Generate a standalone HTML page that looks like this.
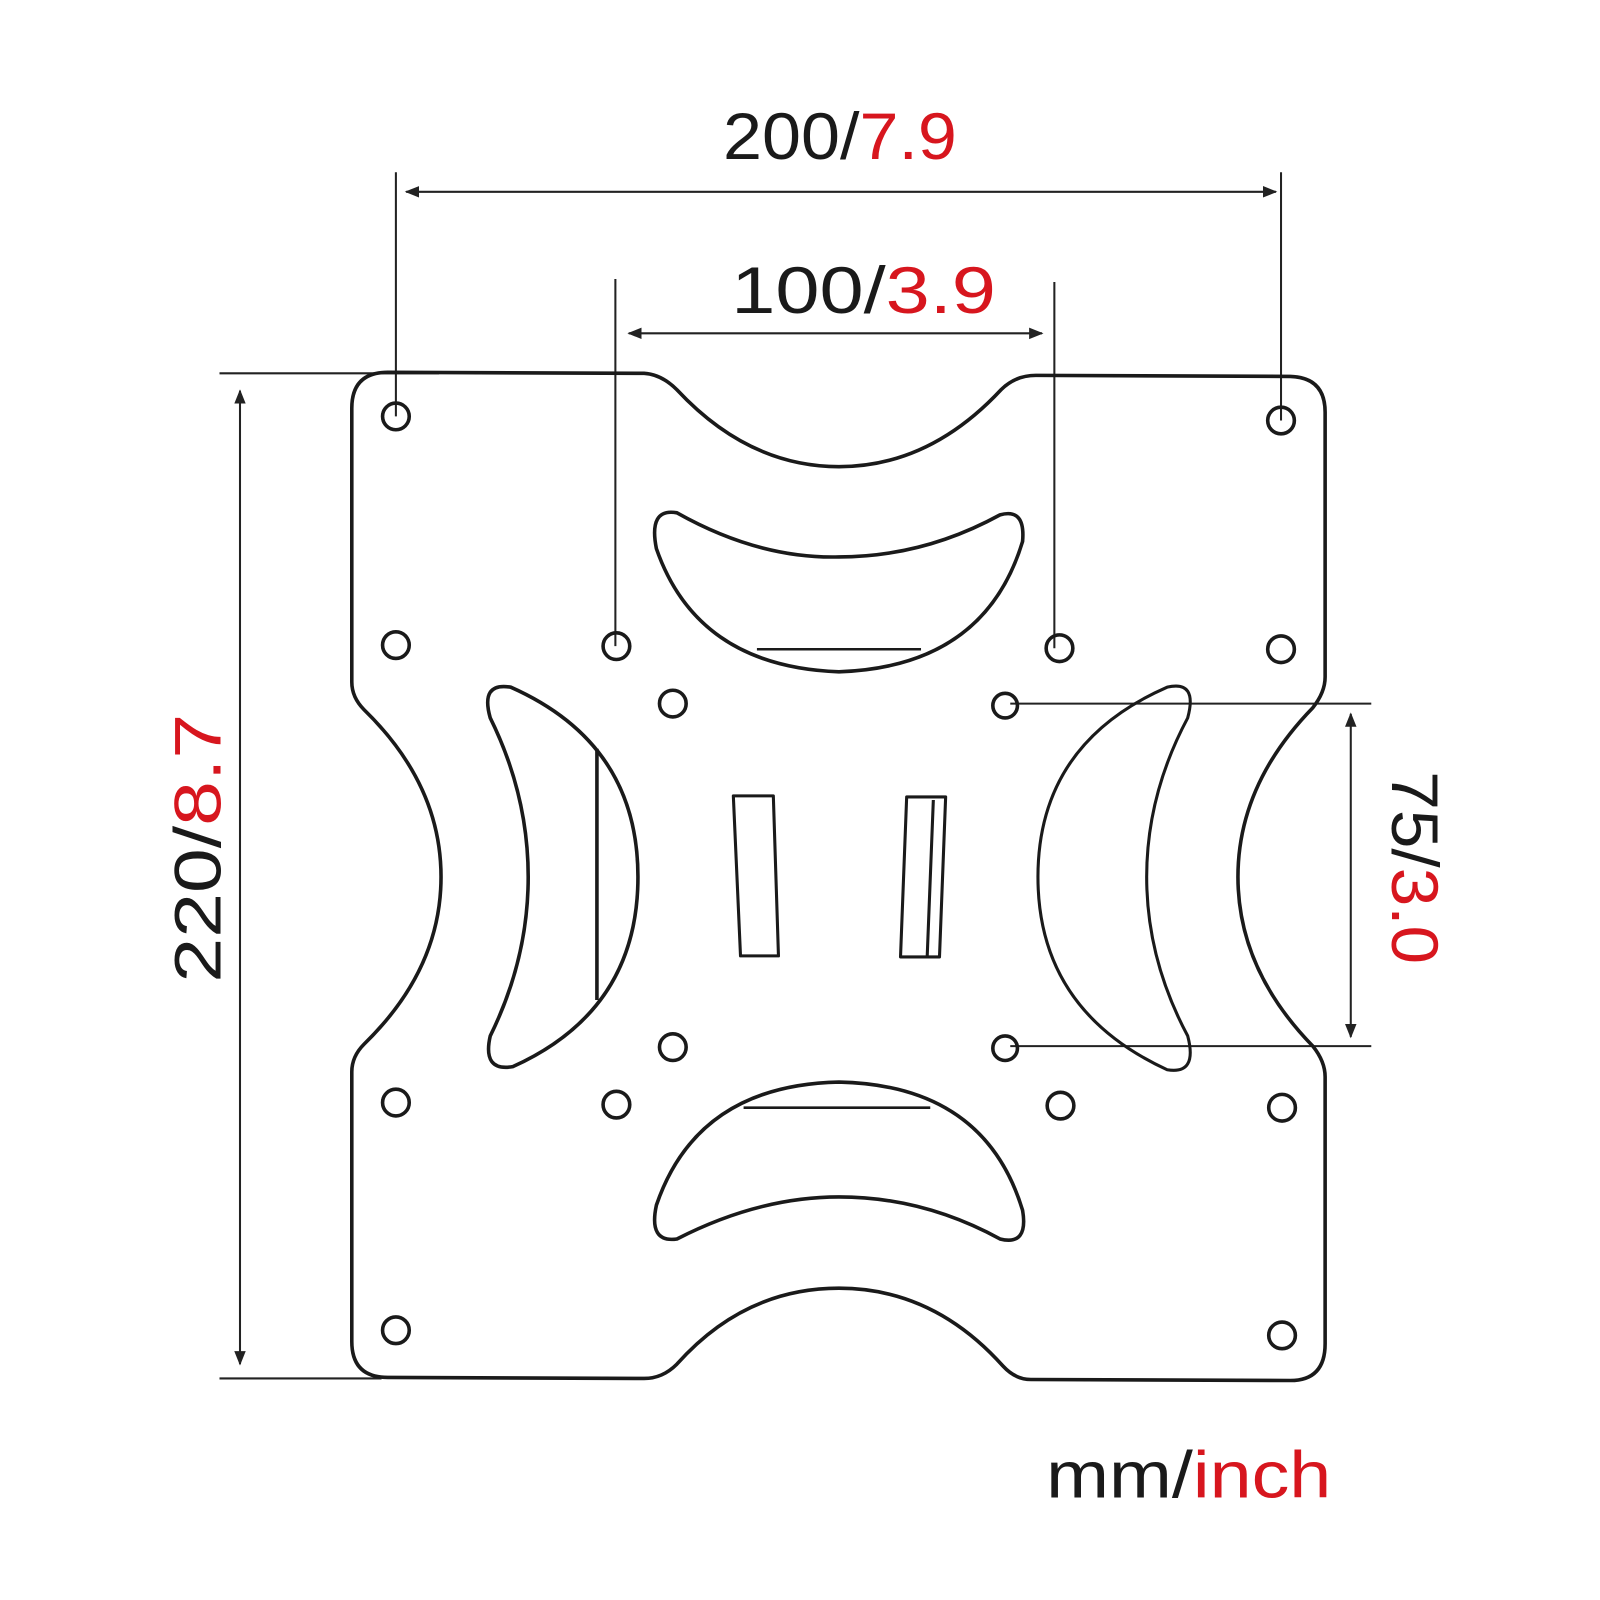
<!DOCTYPE html>
<html><head><style>html,body{margin:0;padding:0;background:#fff}svg{display:block}</style></head><body>
<svg width="1600" height="1600" viewBox="0 0 1560 1560" xmlns="http://www.w3.org/2000/svg" font-family="Liberation Sans, DejaVu Sans, sans-serif">
<defs>
<marker id="a" viewBox="0 0 10 10" refX="9" refY="5" markerWidth="14" markerHeight="14" markerUnits="userSpaceOnUse" orient="auto-start-reverse"><path d="M0,1 L10,5 L0,9 Z" fill="#222"/></marker>
</defs>
<g stroke="#222" stroke-width="2" fill="none">
<line x1="386" y1="168" x2="386" y2="406"/>
<line x1="1249" y1="168" x2="1249" y2="410"/>
<line x1="600" y1="272" x2="600" y2="630"/>
<line x1="1028" y1="275" x2="1028" y2="632"/>
<line x1="396" y1="187" x2="1244" y2="187" marker-start="url(#a)" marker-end="url(#a)"/>
<line x1="613" y1="325" x2="1016" y2="325" marker-start="url(#a)" marker-end="url(#a)"/>
<line x1="214" y1="364" x2="428" y2="364"/>
<line x1="214" y1="1344" x2="372" y2="1344"/>
<line x1="234" y1="381" x2="234" y2="1330" marker-start="url(#a)" marker-end="url(#a)"/>
<line x1="985" y1="686" x2="1337" y2="686"/>
<line x1="985" y1="1020" x2="1337" y2="1020"/>
<line x1="1317" y1="696" x2="1317" y2="1011" marker-start="url(#a)" marker-end="url(#a)"/>
</g>
<g stroke="#1a1a1a" stroke-width="3.5" fill="none" stroke-linejoin="round">
<path d="M378,363 L628,364 Q645,365 660,380 Q730,455 818,455 Q906,455 976,380 Q990,366 1010,366 L1258,367 Q1292,368 1292,402 L1292,660 Q1292,675 1280,690 Q1207,765 1207,855 Q1207,945 1280,1020 Q1292,1035 1292,1050 L1292,1310 Q1292,1346 1258,1346 L1005,1345 Q990,1345 978,1332 Q910,1256 818,1256 Q726,1256 660,1330 Q646,1344 628,1344 L378,1343 Q343,1343 343,1308 L343,1045 Q343,1030 355,1018 Q430,945 430,855 Q430,765 355,692 Q343,680 343,665 L343,398 Q343,363 378,363 Z"/>
<path d="M660,500 Q740,545 818,543 Q900,543 975,502 Q1000,495 997,528 Q960,650 818,655 Q680,650 640,535 Q632,495 660,500 Z"/>
<line x1="738" y1="633" x2="898" y2="633" stroke-width="2.5"/>
<path d="M660,1208 Q740,1167 818,1167 Q900,1167 975,1208 Q1003,1215 997,1180 Q960,1058 818,1055 Q680,1058 640,1175 Q632,1212 660,1208 Z"/>
<line x1="725" y1="1080" x2="907" y2="1080" stroke-width="2.5"/>
<path d="M498,670 Q622,725 622,855 Q622,985 500,1040 Q470,1045 478,1010 Q515,935 515,855 Q515,775 478,700 Q468,665 498,670 Z"/>
<line x1="582" y1="730" x2="582" y2="975"/>
<path d="M1138,670 Q1012,725 1012,855 Q1012,985 1138,1043 Q1168,1048 1158,1010 Q1118,935 1118,855 Q1118,775 1158,700 Q1168,663 1138,670 Z" stroke-width="3"/>
<path d="M715,776 L754,776 L759,932 L722,932 Z" stroke-width="3"/>
<path d="M884,777 L922,777 L916,933 L878,933 Z M910,780 L904,933" stroke-width="3"/>
</g>
<g stroke="#1a1a1a" stroke-width="3.5" fill="none">
<circle cx="386" cy="406" r="13"/><circle cx="1249" cy="410" r="13"/>
<circle cx="386" cy="629" r="13"/><circle cx="601" cy="630" r="13"/>
<circle cx="1033" cy="632" r="13"/><circle cx="1249" cy="633" r="13"/>
<circle cx="656" cy="686" r="13"/><circle cx="980" cy="688" r="12"/>
<circle cx="656" cy="1021" r="13"/><circle cx="980" cy="1022" r="12"/>
<circle cx="386" cy="1075" r="13"/><circle cx="601" cy="1077" r="13"/>
<circle cx="1034" cy="1078" r="13"/><circle cx="1250" cy="1080" r="13"/>
<circle cx="386" cy="1297" r="13"/><circle cx="1250" cy="1302" r="13"/>
</g>
<g font-size="64" fill="#1a1a1a">
<text x="705" y="155" textLength="228" lengthAdjust="spacingAndGlyphs">200/<tspan fill="#d7161e">7.9</tspan></text>
<text x="713" y="305" textLength="258" lengthAdjust="spacingAndGlyphs">100/<tspan fill="#d7161e">3.9</tspan></text>
<text x="1020" y="1460" textLength="278" lengthAdjust="spacingAndGlyphs">mm/<tspan fill="#d7161e">inch</tspan></text>
<text transform="translate(215,958) rotate(-90)" textLength="262" lengthAdjust="spacingAndGlyphs">220/<tspan fill="#d7161e">8.7</tspan></text>
<text transform="translate(1357,752) rotate(90)" textLength="188" lengthAdjust="spacingAndGlyphs">75/<tspan fill="#d7161e">3.0</tspan></text>
</g>
</svg>
</body></html>
